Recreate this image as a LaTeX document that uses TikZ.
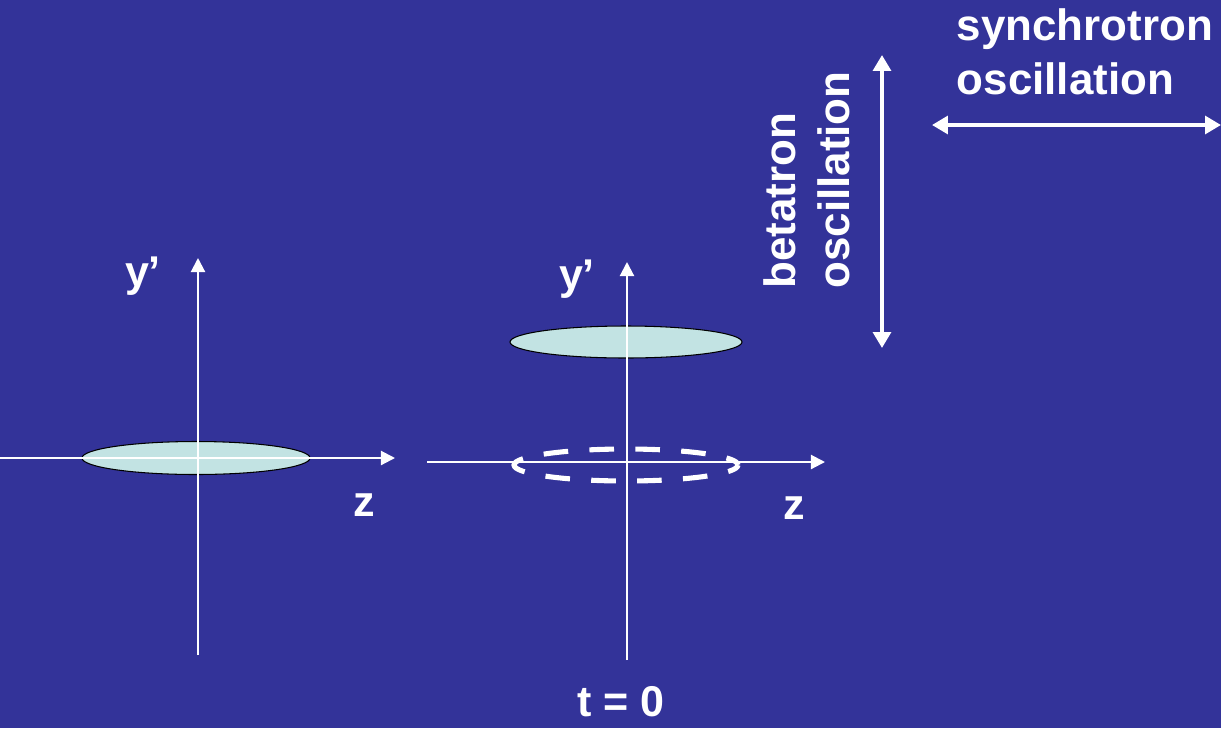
\documentclass[tikz,border=0pt]{standalone}
\usepackage{fontspec}
\setmainfont{Liberation Sans}
\usetikzlibrary{arrows.meta}
\definecolor{slide}{HTML}{333399}
\definecolor{bunchfill}{HTML}{C2E3E3}

\begin{document}
\begin{tikzpicture}[x=0.02cm,y=-0.02cm,
  axis/.style={white,line width=1.2pt,-{Triangle[length=8pt,width=8pt]}},
  osc/.style={white,line width=2.2pt,{Triangle[length=9pt,width=10pt]}-{Triangle[length=9pt,width=10pt]}},
  bunch/.style={fill=bunchfill,draw=black,line width=0.6pt},
  lbl/.style={text=white,font=\fontsize{24.5}{29}\bfseries\selectfont},
  big/.style={text=white,font=\fontsize{25}{31}\bfseries\selectfont,align=left}]
  \fill[slide] (0,0) rectangle (1221,728);
  \useasboundingbox (0,0) rectangle (1221,728);
  % bunches in phase space
  \filldraw[bunch] (196,458) ellipse [x radius=114,y radius=16.5];
  \filldraw[bunch] (626,342) ellipse [x radius=116,y radius=16];
  \draw[white,line width=2.9pt,dash pattern=on 14pt off 12.13pt,dash phase=7pt] (626,465) ellipse [x radius=112,y radius=16];
  % axes
  \coordinate (zl0) at (0,458);   \coordinate (zl1) at (395,458);
  \coordinate (yl0) at (198,655); \coordinate (yl1) at (198,258);
  \coordinate (zr0) at (427,462); \coordinate (zr1) at (825,462);
  \coordinate (yr0) at (627,660); \coordinate (yr1) at (627,262);
  \draw[axis] (zl0) -- (zl1); \draw[axis] (yl0) -- (yl1);
  \draw[axis] (zr0) -- (zr1); \draw[axis] (yr0) -- (yr1);
  \node[lbl] (yl) at (143,276) {y'};
  \node[lbl] (zl) at (364,505) {z};
  \node[lbl] (yr) at (577,279) {y'};
  \node[lbl] (zr) at (794,508) {z};
  \node[lbl] (t0) at (621,702) {t = 0};
  % oscillation directions
  \node[big,rotate=90] (beta) at (807,180) {betatron\\oscillation};
  \node[big] (sync) at (1085,52) {synchrotron\\oscillation};
  \coordinate (b0) at (882,55);  \coordinate (b1) at (882,348);
  \coordinate (s0) at (932,125); \coordinate (s1) at (1221,125);
  \draw[osc] (b0) -- (b1);
  \draw[osc] (s0) -- (s1);
\end{tikzpicture}
\end{document}
